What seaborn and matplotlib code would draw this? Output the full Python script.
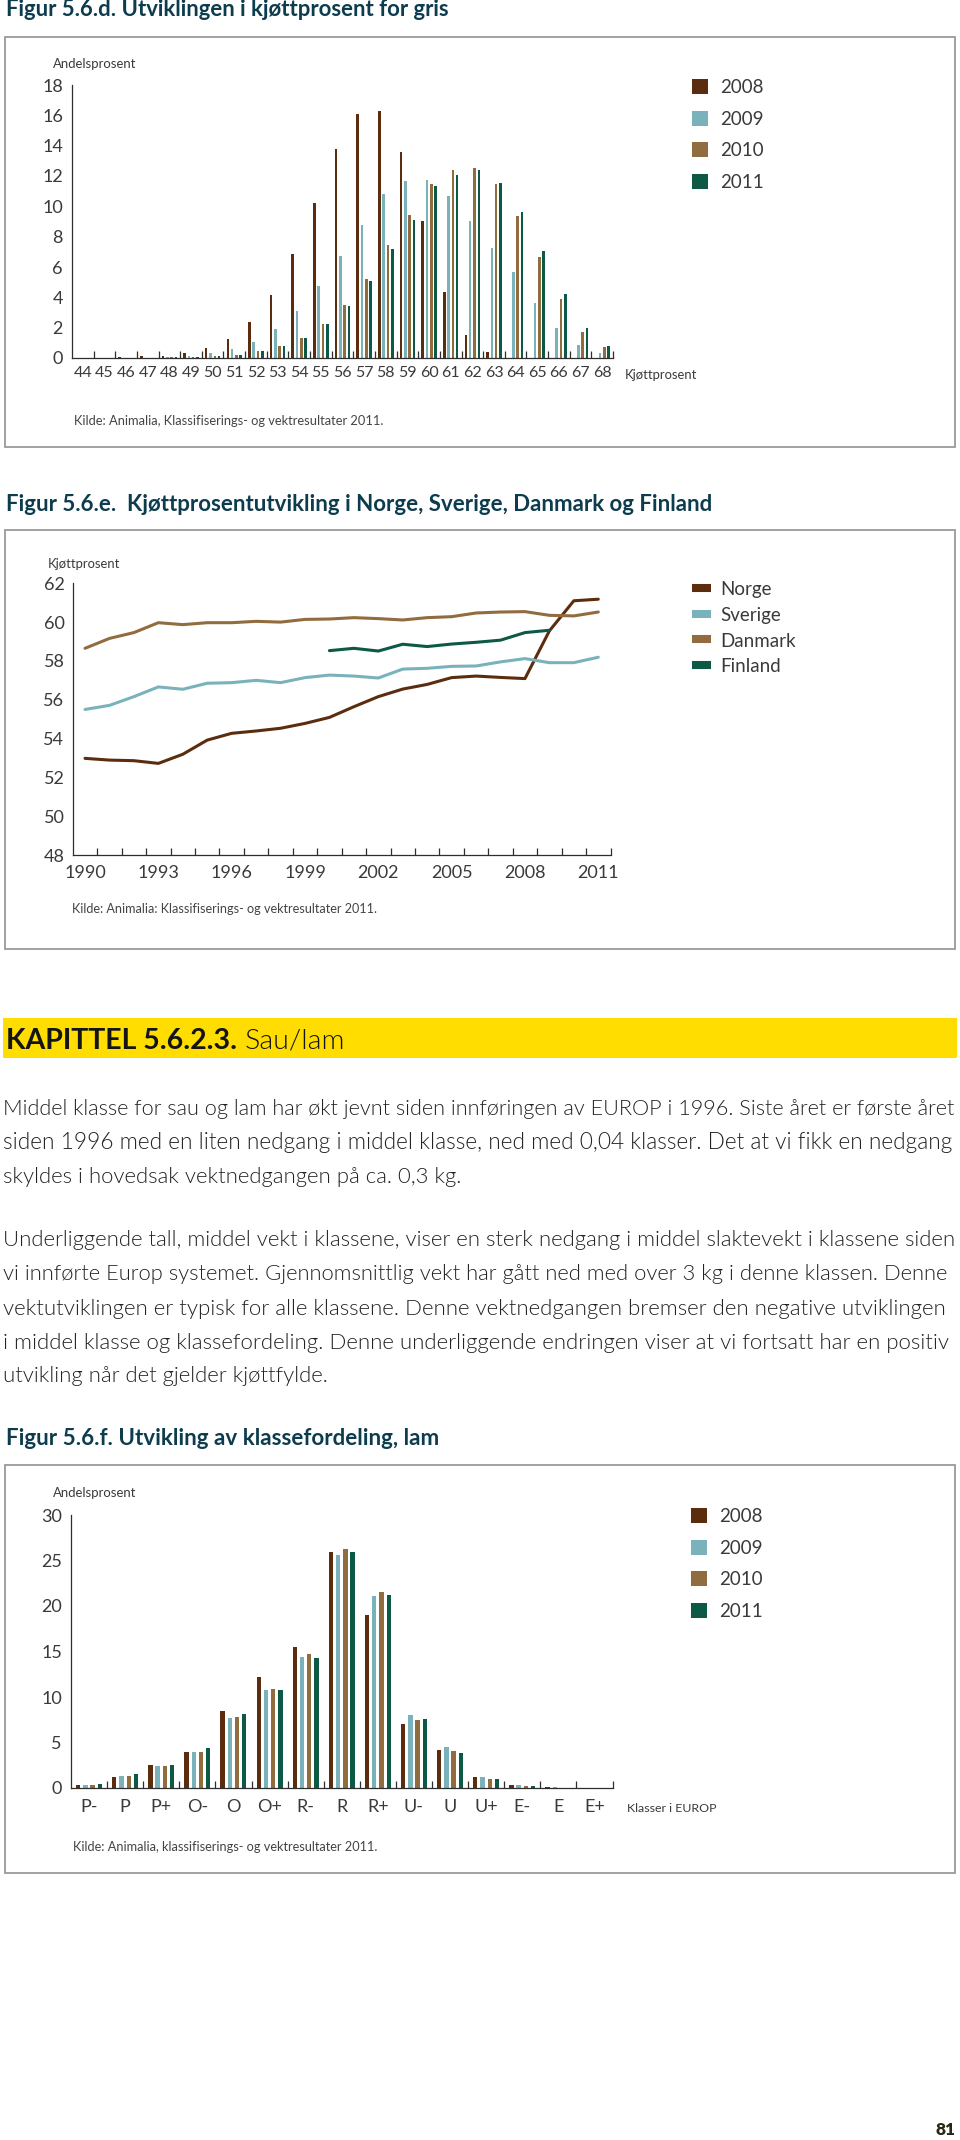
import numpy as np
import pandas as pd
import matplotlib
matplotlib.use("Agg")
import matplotlib.pyplot as plt
import seaborn as sns
from matplotlib import font_manager as fm
from matplotlib.patches import Rectangle, Patch
from matplotlib.lines import Line2D

# ------------------------------------------------------------------ data
years = ["2008", "2009", "2010", "2011"]

gris_cats = [str(i) for i in range(44, 69)]
gris_2008 = [0.03, 0.03, 0.04, 0.10, 0.15, 0.33, 0.66, 1.25, 2.35, 4.15, 6.85, 10.2, 13.75,
             16.1, 16.27, 13.57, 9.06, 4.32, 1.49, 0.37, 0.03, 0.02, 0.01, 0.01, 0.0]
gris_2009 = [0.01, 0.01, 0.02, 0.03, 0.05, 0.15, 0.33, 0.60, 1.07, 1.90, 3.10, 4.75, 6.70,
             8.77, 10.8, 11.64, 11.75, 10.68, 9.06, 7.24, 5.64, 3.62, 2.0, 0.88, 0.33]
gris_2010 = [0.01, 0.01, 0.02, 0.03, 0.05, 0.05, 0.15, 0.22, 0.44, 0.77, 1.34, 2.26, 3.50,
             5.2, 7.45, 9.43, 11.5, 12.39, 12.52, 11.47, 9.36, 6.69, 3.86, 1.73, 0.70]
gris_2011 = [0.01, 0.01, 0.02, 0.03, 0.05, 0.05, 0.15, 0.22, 0.44, 0.77, 1.34, 2.26, 3.45,
             5.1, 7.17, 9.1, 11.34, 12.04, 12.37, 11.51, 9.65, 7.08, 4.23, 2.0, 0.81]
gris_yticks = [0, 2, 4, 6, 8, 10, 12, 14, 16, 18]

line_years = list(range(1990, 2012))
countries = ["Norge", "Sverige", "Danmark", "Finland"]
norge = [52.98, 52.89, 52.86, 52.72, 53.19, 53.92, 54.27, 54.39, 54.53, 54.78, 55.09,
         55.64, 56.16, 56.55, 56.79, 57.14, 57.22, 57.15, 57.09, 59.55, 61.1, 61.18]
sverige = [55.5, 55.71, 56.16, 56.66, 56.54, 56.85, 56.88, 57.0, 56.88, 57.14, 57.27,
           57.22, 57.12, 57.58, 57.62, 57.72, 57.74, 57.95, 58.12, 57.91, 57.91, 58.19]
danmark = [58.65, 59.16, 59.46, 59.97, 59.87, 59.97, 59.97, 60.04, 60.0, 60.14, 60.16,
           60.23, 60.18, 60.11, 60.23, 60.28, 60.47, 60.52, 60.54, 60.35, 60.32, 60.52]
finland = [np.nan] * 10 + [58.53, 58.65, 58.51, 58.86, 58.74, 58.87, 58.96, 59.07,
                           59.46, 59.58] + [np.nan, np.nan]
line_xticks = [1990, 1993, 1996, 1999, 2002, 2005, 2008, 2011]
line_yticks = [48, 50, 52, 54, 56, 58, 60, 62]

lam_cats = ["P-", "P", "P+", "O-", "O", "O+", "R-", "R", "R+", "U-", "U", "U+", "E-", "E", "E+"]
lam_2008 = [0.37, 1.24, 2.49, 3.99, 8.42, 12.22, 15.44, 25.94, 19.03, 7.03, 4.21, 1.21, 0.29, 0.07, 0.01]
lam_2009 = [0.33, 1.35, 2.41, 3.99, 7.65, 10.72, 14.42, 25.65, 21.08, 8.01, 4.50, 1.24, 0.37, 0.07, 0.01]
lam_2010 = [0.33, 1.35, 2.41, 3.92, 7.83, 10.87, 14.71, 26.23, 21.59, 7.43, 4.02, 0.99, 0.26, 0.05, 0.01]
lam_2011 = [0.48, 1.57, 2.49, 4.35, 8.16, 10.76, 14.34, 25.90, 21.26, 7.54, 3.84, 0.95, 0.26, 0.05, 0.01]
lam_yticks = [0, 5, 10, 15, 20, 25, 30]

title_d = "Figur 5.6.d. Utviklingen i kjøttprosent for gris"
title_e = "Figur 5.6.e.  Kjøttprosentutvikling i Norge, Sverige, Danmark og Finland"
title_f = "Figur 5.6.f. Utvikling av klassefordeling, lam"
kilde_d = "Kilde: Animalia, Klassifiserings- og vektresultater 2011."
kilde_e = "Kilde: Animalia: Klassifiserings- og vektresultater 2011."
kilde_f = "Kilde: Animalia, klassifiserings- og vektresultater 2011."
kap_bold = "KAPITTEL 5.6.2.3."
kap_light = "Sau/lam"
para1 = ["Middel klasse for sau og lam har økt jevnt siden innføringen av EUROP i 1996. Siste året er første året",
         "siden 1996 med en liten nedgang i middel klasse, ned med 0,04 klasser. Det at vi fikk en nedgang",
         "skyldes i hovedsak vektnedgangen på ca. 0,3 kg."]
para2 = ["Underliggende tall, middel vekt i klassene, viser en sterk nedgang i middel slaktevekt i klassene siden",
         "vi innførte Europ systemet. Gjennomsnittlig vekt har gått ned med over 3 kg i denne klassen. Denne",
         "vektutviklingen er typisk for alle klassene. Denne vektnedgangen bremser den negative utviklingen",
         "i middel klasse og klassefordeling. Denne underliggende endringen viser at vi fortsatt har en positiv",
         "utvikling når det gjelder kjøttfylde."]
page_no = "81"

# ------------------------------------------------------------------ style
C = {"2008": "#5b2d0e", "2009": "#7ab2bc", "2010": "#916c3e", "2011": "#0c5a46"}
CL = {"Norge": C["2008"], "Sverige": C["2009"], "Danmark": C["2010"], "Finland": C["2011"]}
TITLE_C = "#0d3c4e"
TXT = "#222222"
TICK_C = "#3a3a3a"
AX_C = "#2e2e2e"

sns.set_theme(style="ticks")
avail = {f.name for f in fm.fontManager.ttflist}


def pick(*names):
    for n in names:
        if n in avail:
            return n
    return "DejaVu Sans"


FONT = pick("Lato", "Roboto", "Liberation Sans", "DejaVu Sans")
plt.rcParams["font.family"] = FONT

W, H = 960, 2140
fig = plt.figure(figsize=(W / 100, H / 100), dpi=100)
fig.patch.set_facecolor("white")
R = fig.canvas.get_renderer()


def fx(x):
    return x / W


def fy(y):
    return 1 - y / H


def fit(x, y, s, width, size=12, ha="left", va="baseline", **kw):
    # size the text so that it spans `width` pixels (a few passes: hinting is not linear)
    t = fig.text(fx(x), fy(y), s, fontsize=size, ha=ha, va=va, **kw)
    for _ in range(4):
        w = t.get_window_extent(R).width
        t.set_fontsize(t.get_fontsize() * width / w)
    if t.get_window_extent(R).width > width:
        t.set_fontsize(t.get_fontsize() * 0.995)
    return t


def add_axes(x0, x1, ytop, ybot):
    return fig.add_axes([fx(x0), fy(ybot), (x1 - x0) / W, (ybot - ytop) / H])


def box(ytop, ybot):
    fig.patches.append(Rectangle((fx(5), fy(ybot)), 950 / W, (ybot - ytop) / H,
                                 transform=fig.transFigure, fill=False,
                                 ec="#9a9a9a", lw=1.3))


def style_axes(ax, xpad, ypad, xsize, ysize):
    sns.despine(ax=ax)
    for s in ("left", "bottom"):
        ax.spines[s].set_linewidth(0.9)
        ax.spines[s].set_color(AX_C)
    ax.tick_params(axis="y", length=0, pad=ypad, labelsize=ysize, labelcolor=TICK_C)
    ax.tick_params(axis="x", which="major", length=0, pad=xpad, labelsize=xsize, labelcolor=TICK_C)
    ax.tick_params(axis="x", which="minor", direction="in", length=5, width=0.9, color=AX_C)
    ax.set_xlabel("")
    ax.set_ylabel("")
    ax.patch.set_alpha(0)
    ax.grid(False)


LEG_FS = 13.5


def bar_legend(x, ytop):
    handles = [Patch(facecolor=C[y], edgecolor="none", label=y) for y in years]
    fig.legend(handles=handles, loc="upper left", bbox_to_anchor=(fx(x), fy(ytop)),
               frameon=False, fontsize=LEG_FS, borderpad=0, borderaxespad=0,
               handlelength=0.853, handleheight=0.853, handletextpad=0.62,
               labelspacing=0.784, labelcolor=TICK_C)


def paragraph(lines, ys, x0=3, x1=955, **kw):
    # every full line is sized to span the text column (justified look);
    # the closing line uses the mean size of the others
    sizes = [fit(x0, y, ln, x1 - x0, **kw).get_fontsize() for ln, y in zip(lines[:-1], ys[:-1])]
    fig.text(fx(x0), fy(ys[-1]), lines[-1], fontsize=float(np.mean(sizes)),
             va="baseline", **kw)


# ------------------------------------------------------------------ boxes & titles
box(37, 447)
box(530, 949)
box(1465, 1873)
fit(6, 16, title_d, 446, weight="bold", color=TITLE_C)
fit(6, 511, title_e, 708, weight="bold", color=TITLE_C)
fit(6, 1445, title_f, 434, weight="bold", color=TITLE_C)

# ------------------------------------------------------------------ chart d (gris)
df_g = pd.DataFrame({
    "kat": gris_cats * 4,
    "andel": gris_2008 + gris_2009 + gris_2010 + gris_2011,
    "aar": sum([[y] * len(gris_cats) for y in years], []),
})
ax1 = add_axes(72, 613, 85, 358)
sns.barplot(data=df_g, x="kat", y="andel", hue="aar", hue_order=years, order=gris_cats,
            palette=C, saturation=1, width=0.8, gap=0.4, linewidth=0, legend=False, ax=ax1)
ax1.set_xlim(-0.5, len(gris_cats) - 0.5)
ax1.set_ylim(0, 18)
ax1.set_yticks(gris_yticks)
ax1.set_xticks(np.arange(0.5, len(gris_cats), 1), minor=True)
style_axes(ax1, xpad=6, ypad=6.5, xsize=11.5, ysize=13)
fit(53, 68, "Andelsprosent", 84, color=TICK_C)
fit(625, 379, "Kjøttprosent", 72, color=TICK_C)
fit(74, 425, kilde_d, 311, color="#444444")
bar_legend(692, 79)

# ------------------------------------------------------------------ chart e (lines)
df_l = pd.DataFrame({
    "aar": line_years * 4,
    "kjott": norge + sverige + danmark + finland,
    "land": sum([[c] * len(line_years) for c in countries], []),
}).dropna()
ax2 = add_axes(72.8, 610.5, 583.3, 855)
sns.lineplot(data=df_l, x="aar", y="kjott", hue="land", hue_order=countries, palette=CL,
             lw=2.2, errorbar=None, legend=False, ax=ax2)
ax2.set_xlim(1989.5, 2011.5)
ax2.set_ylim(48, 62)
ax2.set_yticks(line_yticks)
ax2.set_xticks(line_xticks)
ax2.set_xticks(np.arange(1990.5, 2012, 1), minor=True)
style_axes(ax2, xpad=7, ypad=6, xsize=13, ysize=13)
fit(48, 568, "Kjøttprosent", 72, color=TICK_C)
fit(72, 913, kilde_e, 306, color="#444444")
lh = [Line2D([], [], color=CL[c], lw=5.8, solid_capstyle="butt", label=c) for c in countries]
fig.legend(handles=lh, loc="upper left", bbox_to_anchor=(fx(692), fy(580.5)),
           frameon=False, fontsize=LEG_FS, borderpad=0, borderaxespad=0,
           handlelength=1.0, handleheight=1.0, handletextpad=0.5, labelspacing=0.42,
           labelcolor=TICK_C)

# ------------------------------------------------------------------ yellow heading & text
fig.patches.append(Rectangle((fx(3), fy(1058)), 954 / W, 40 / H, transform=fig.transFigure,
                             color="#ffdd00", lw=0))
tk = fit(6, 1049, kap_bold, 231, weight="bold", color="#141414")
fig.text(fx(245), fy(1049), kap_light, fontsize=tk.get_fontsize(), va="baseline",
         weight=300, color="#141414")

paragraph(para1, [1115, 1149, 1183], color=TXT, weight=300)
paragraph(para2, [1246, 1280, 1315, 1349, 1382], color=TXT, weight=300)

# ------------------------------------------------------------------ chart f (lam)
df_s = pd.DataFrame({
    "kl": lam_cats * 4,
    "andel": lam_2008 + lam_2009 + lam_2010 + lam_2011,
    "aar": sum([[y] * len(lam_cats) for y in years], []),
})
ax3 = add_axes(71, 612.5, 1515, 1788)
sns.barplot(data=df_s, x="kl", y="andel", hue="aar", hue_order=years, order=lam_cats,
            palette=C, saturation=1, width=0.8, gap=0.4, linewidth=0, legend=False, ax=ax3)
ax3.set_xlim(-0.5, len(lam_cats) - 0.5)
ax3.set_ylim(0, 30)
ax3.set_yticks(lam_yticks)
ax3.set_xticks(np.arange(0.5, len(lam_cats), 1), minor=True)
style_axes(ax3, xpad=8, ypad=6.5, xsize=13, ysize=13)
fit(53, 1497, "Andelsprosent", 84, color=TICK_C)
fit(627, 1812, "Klasser i EUROP", 90, color=TICK_C)
fit(73, 1851, kilde_f, 305, color="#444444")
bar_legend(691, 1508)

# ------------------------------------------------------------------ page number
fit(936, 2135, page_no, 20, weight="heavy", color="#2b2614")

fig.savefig("out.png", dpi=100, facecolor="white")
